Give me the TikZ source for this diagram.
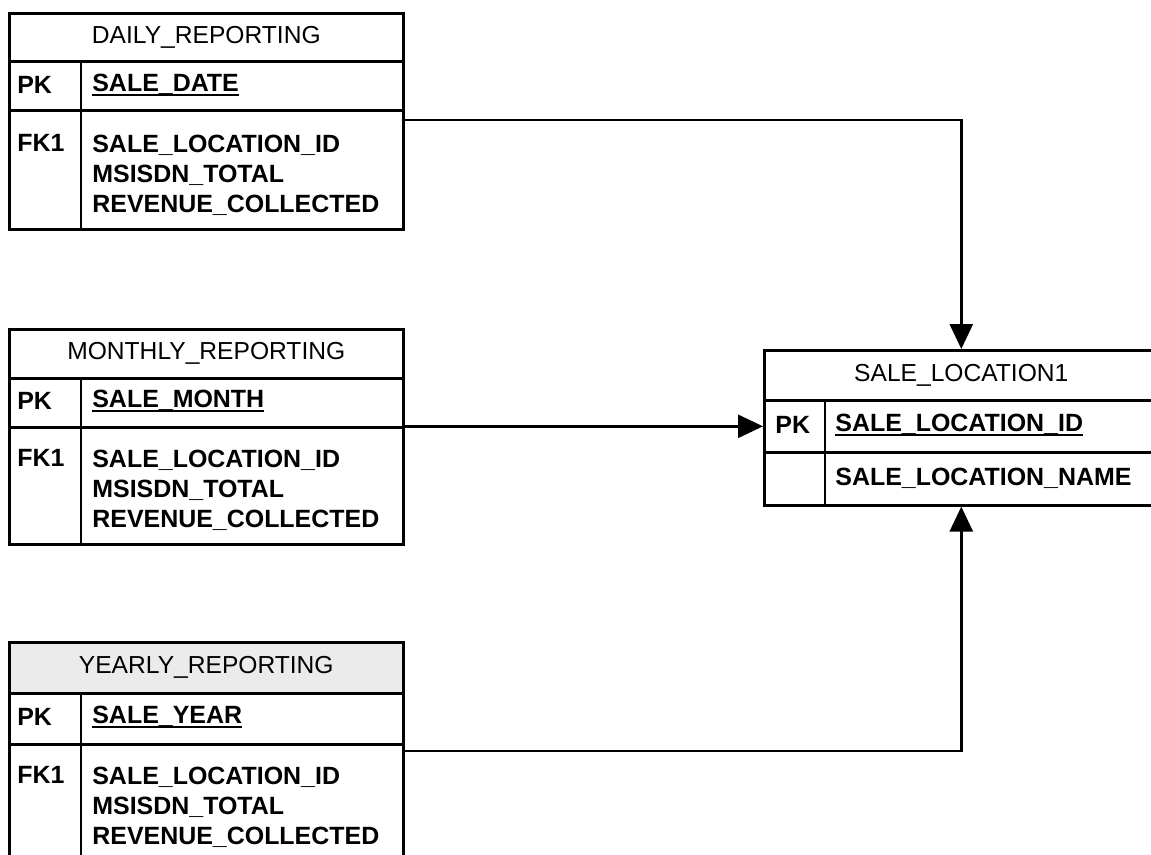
\documentclass[tikz,border=0pt]{standalone}
\usepackage{fontspec}
\setmainfont{Liberation Sans}
\usetikzlibrary{arrows.meta}
\newcommand{\pkname}[1]{\setbox0=\hbox{#1}\rlap{\rule[-2.6pt]{\wd0}{1pt}}\box0}
\begin{document}
\begin{tikzpicture}[x=0.02cm,y=-0.02cm,
  tbl/.style={draw,line width=1.5pt,rectangle,inner sep=0pt,anchor=north west,minimum width=7.88cm},
  hdr/.style={tbl,font=\fontsize{14}{17}\selectfont},
  txt/.style={anchor=west,inner sep=0pt,align=left,font=\fontsize{14.2}{17}\selectfont\bfseries},
  sep/.style={draw,line width=1.5pt},
  rel/.style={draw,line width=1.6pt,-{Triangle[length=0.5cm,width=0.46cm]}}]
\useasboundingbox (0,0) rectangle (1151,854);
\clip (0,0) rectangle (1151,854);
\begin{scope}
\node[hdr,minimum height=0.96cm] (dh) at (8,12) {DAILY\_REPORTING};
\node[tbl,minimum height=0.98cm] (dp) at (8,60) {};
\node[tbl,minimum height=2.38cm] (db) at (8,109) {};
\path[sep] ([xshift=1.46cm]dp.north west) -- ([xshift=1.46cm]db.south west);
\node[txt] (dpk) at (17,85) {PK};
\node[txt] (dpf) at (92,85) {\pkname{SALE\_DATE}};
\node[txt] (dfk) at (17,143) {FK1};
\node[txt] (dff) at (92,175) {SALE\_LOCATION\_ID\\MSISDN\_TOTAL\\REVENUE\_COLLECTED};
\end{scope}
\begin{scope}
\node[hdr,minimum height=0.98cm] (mh) at (8,328) {MONTHLY\_REPORTING};
\node[tbl,minimum height=0.98cm] (mp) at (8,377) {};
\node[tbl,minimum height=2.34cm] (mb) at (8,426) {};
\path[sep] ([xshift=1.46cm]mp.north west) -- ([xshift=1.46cm]mb.south west);
\node[txt] (mpk) at (17,401) {PK};
\node[txt] (mpf) at (92,401) {\pkname{SALE\_MONTH}};
\node[txt] (mfk) at (17,458) {FK1};
\node[txt] (mff) at (92,490) {SALE\_LOCATION\_ID\\MSISDN\_TOTAL\\REVENUE\_COLLECTED};
\end{scope}
\begin{scope}
\node[hdr,fill=black!8,minimum height=1.02cm] (yh) at (8,641) {YEARLY\_REPORTING};
\node[tbl,minimum height=1.02cm] (yp) at (8,692) {};
\node[tbl,minimum height=2.8cm] (yb) at (8,743) {};
\path[sep] ([xshift=1.46cm]yp.north west) -- ([xshift=1.46cm]yb.south west);
\node[txt] (ypk) at (17,717) {PK};
\node[txt] (ypf) at (92,717) {\pkname{SALE\_YEAR}};
\node[txt] (yfk) at (17,775) {FK1};
\node[txt] (yff) at (92,807) {SALE\_LOCATION\_ID\\MSISDN\_TOTAL\\REVENUE\_COLLECTED};
\end{scope}
\begin{scope}
\node[hdr,minimum height=1.0cm] (lh) at (763,349) {SALE\_LOCATION1};
\node[tbl,minimum height=1.04cm] (lp) at (763,399) {};
\node[tbl,minimum height=1.06cm] (lb) at (763,451) {};
\path[sep] ([xshift=1.24cm]lp.north west) -- ([xshift=1.24cm]lb.south west);
\node[txt] (lpk) at (775,425) {PK};
\node[txt] (lpf) at (835,425) {\pkname{SALE\_LOCATION\_ID}};
\node[txt] (lff) at (835,478) {SALE\_LOCATION\_NAME};
\end{scope}
\path[rel] ([yshift=-0.22cm]db.north east) -| (lh.north);
\path[rel] (lp.west -| mb.east) -- (lp.west);
\path[rel] ([yshift=-0.16cm]yb.north east) -| (lb.south);
\end{tikzpicture}
\end{document}
